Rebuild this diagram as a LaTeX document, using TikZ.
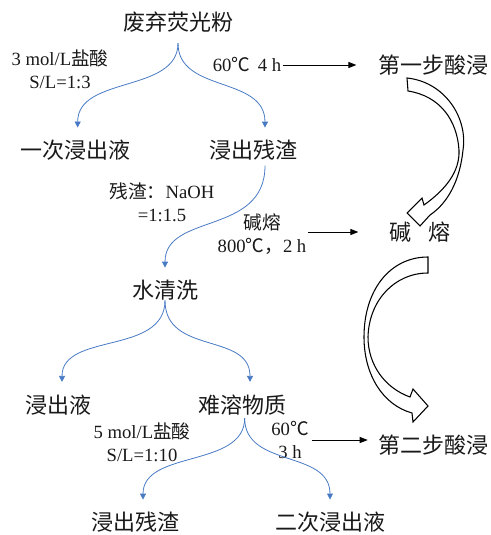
\documentclass[tikz,border=0pt]{standalone}
\usepackage{fontspec}
\setmainfont{Liberation Serif}
\newfontfamily\cjk{Noto Sans CJK SC}
\usetikzlibrary{arrows.meta}
\definecolor{flowblue}{RGB}{72,122,196}
\definecolor{txt}{RGB}{25,25,25}
\tikzset{
  mainlbl/.style={font=\cjk\fontsize{16.5}{20}\selectfont, inner sep=0pt, text=txt},
  smalllbl/.style={font=\fontsize{14}{17}\selectfont, align=center, inner sep=1pt, text=txt},
  flow/.style={draw=flowblue, line width=0.6pt, -{Triangle[length=4.5pt,width=4.5pt]}},
  blkarrow/.style={draw=black, line width=0.7pt, -{Triangle[length=6pt,width=4.5pt]}},
  hollow/.style={draw=black, fill=white, line width=0.8pt, line join=miter}
}
\begin{document}
\begin{tikzpicture}[x=0.75pt,y=-0.75pt]
\useasboundingbox (0,0) rectangle (490,535);

% main nodes
\node[mainlbl] (fei) at (178,22) {废弃荧光粉};
\node[mainlbl] (yc) at (75,150) {一次浸出液};
\node[mainlbl] (zc1) at (253,150) {浸出残渣};
\node[mainlbl] (s1) at (433,65) {第一步酸浸};
\node[mainlbl] (jr) at (420,232) {碱\hspace{13pt}熔};
\node[mainlbl] (sqx) at (165,290) {水清洗};
\node[mainlbl] (jcy) at (58,405) {浸出液};
\node[mainlbl] (nr) at (242,405) {难溶物质};
\node[mainlbl] (s2) at (433,445) {第二步酸浸};
\node[mainlbl] (zc2) at (135,522) {浸出残渣};
\node[mainlbl] (ec) at (330,522) {二次浸出液};

% condition labels
\node[smalllbl] (c1) at (60,69) {3 mol/L{\cjk 盐酸}\\S/L=1:3};
\node[smalllbl] (t1) at (247,65) {60{\cjk ℃}\,\ 4 h};
\node[smalllbl] (c2) at (162,202) {{\cjk 残渣：}NaOH\\=1:1.5};
\node[smalllbl] (jrl) at (262,234) {{\cjk 碱熔}\\800{\cjk ℃，}2 h};
\node[smalllbl] (c3) at (142,442) {5 mol/L{\cjk 盐酸}\\S/L=1:10};
\node[smalllbl] (t3) at (290,440) {60{\cjk ℃}\\3 h};

% blue flow curves
\draw[flow] ([yshift=-8pt]fei.south) .. controls +(0,50) and +(0,-52) .. ([xshift=2pt,yshift=9pt]yc.north);
\draw[flow] ([yshift=-8pt]fei.south) .. controls +(0,50) and +(0,-52) .. ([xshift=9pt,yshift=9pt]zc1.north);
\draw[flow] ([xshift=9pt,yshift=-4pt]zc1.south) .. controls +(0,70) and +(0,-55) .. ([yshift=9pt]sqx.north);
\draw[flow] (sqx.south) .. controls +(0,55) and +(0,-50) .. ([xshift=3pt,yshift=9.5pt]jcy.north);
\draw[flow] (sqx.south) .. controls +(0,55) and +(0,-50) .. ([xshift=6pt,yshift=9.5pt]nr.north);
\draw[flow] ([xshift=2pt,yshift=-2pt]nr.south) .. controls +(0,50) and +(0,-50) .. ([xshift=6pt,yshift=9pt]zc2.north);
\draw[flow] ([xshift=2pt,yshift=-2pt]nr.south) .. controls +(0,50) and +(0,-50) .. ([yshift=9pt]ec.north);

% black arrows
\draw[blkarrow, shorten >=16pt] (t1.east) -- (s1.west);
\draw[blkarrow, shorten >=23pt] (jrl.east |- jr.west) -- (jr.west);
\draw[blkarrow, shorten >=7.5pt] ([xshift=1pt]t3.east) -- (t3.east -| s2.west);

% hollow curved arrows
\draw[hollow] (407,78) .. controls (445,82) and (468,118) .. (463,150)
  .. controls (460,180) and (448,203) .. (430,215)
  -- (420,226) -- (407,213) -- (422,198) -- (424,205)
  .. controls (445,190) and (460,172) .. (459,150)
  .. controls (457,120) and (440,96) .. (408,91) -- cycle;
\draw[hollow] (428,257) -- (428,273)
  .. controls (395,273) and (369,300) .. (368,337)
  .. controls (368,365) and (385,388) .. (410,397)
  -- (413,389) -- (428,406) -- (413,422) -- (412,413)
  .. controls (383,405) and (364,375) .. (364,337)
  .. controls (364,290) and (390,257) .. (428,257) -- cycle;
\end{tikzpicture}
\end{document}
